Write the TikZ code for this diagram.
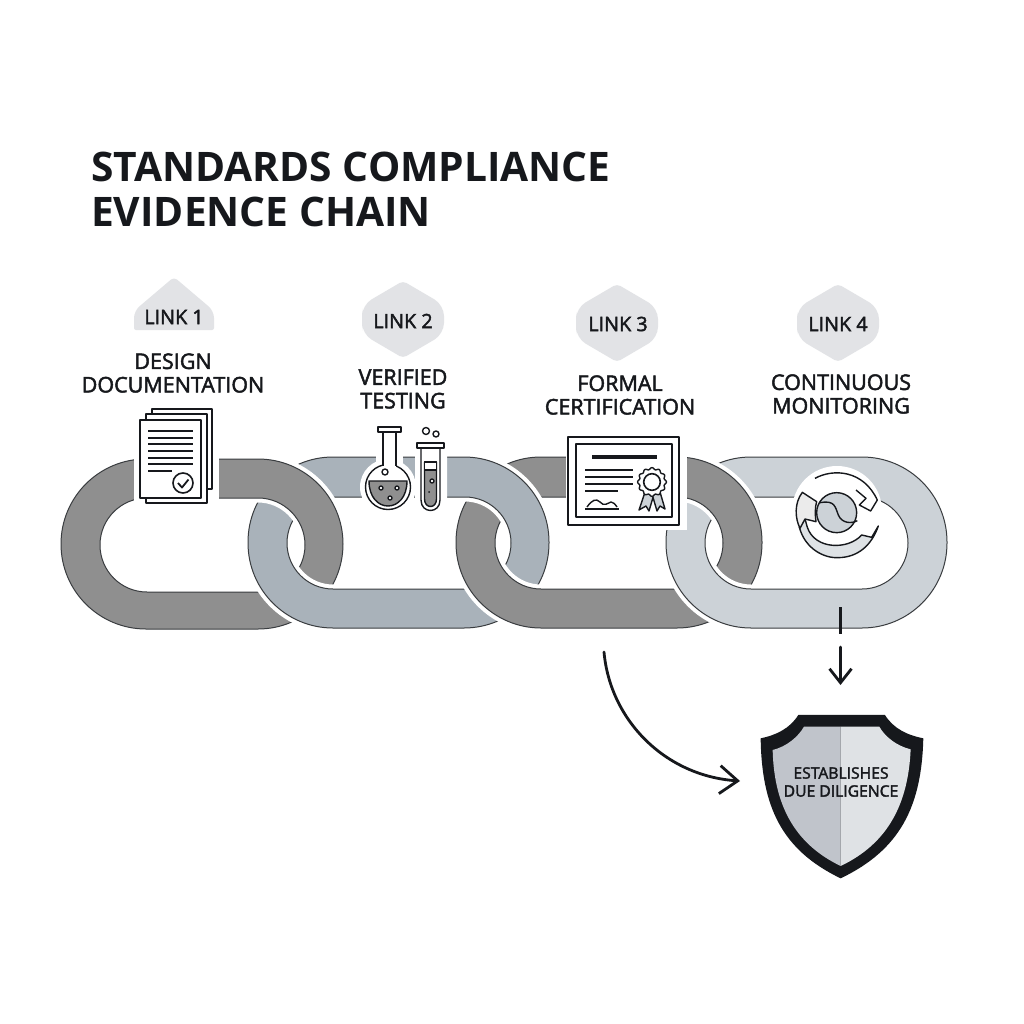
\documentclass[tikz,border=0pt]{standalone}
\usepackage{fontspec}
\setmainfont{Open Sans}
\newfontfamily\lblfont{Open Sans}[RawFeature={embolden=2.2}]
\newfontfamily\titlefont{Open Sans}[BoldFont={Open Sans Bold}]
\usetikzlibrary{arrows.meta}
\definecolor{edgec}{HTML}{3A3D40}
\definecolor{inkc}{HTML}{16181C}
\definecolor{darkl}{HTML}{8F8F8F}
\definecolor{steel}{HTML}{A9B2BA}
\definecolor{pale}{HTML}{CCD2D7}
\definecolor{badgec}{HTML}{E2E3E6}
\definecolor{shl}{HTML}{C0C4CB}
\definecolor{shr}{HTML}{DFE2E5}
\tikzset{
  icon/.style={draw=inkc,line width=1.4pt,line join=round},
  thinl/.style={draw=inkc,line width=1.4pt},
  heavy/.style={draw=inkc,line width=2.8pt,line cap=round,line join=round},
  lbl/.style={inner sep=0pt,align=center,text=inkc,font=\lblfont\fontsize{21.5}{23.5}\selectfont},
  linklbl/.style={inner sep=0pt,text=inkc,font=\lblfont\fontsize{19.8}{22}\selectfont},
}
\def\linkA{[rounded corners=85pt](61,459) rectangle (343,629)[rounded corners=47pt](100,498) rectangle (305,592)}
\def\linkB{[rounded corners=85pt](248,457) rectangle (549,628)[rounded corners=46pt](287,497) rectangle (511,589)}
\def\linkC{[rounded corners=85pt](456,457) rectangle (762,628)[rounded corners=46pt](495,497) rectangle (723,589)}
\def\linkD{[rounded corners=85pt](666,457) rectangle (947,628)[rounded corners=46pt](705,497) rectangle (908,589)}
\newcommand{\bandit}[2]{%
  \path[draw=white,line width=9pt] #2;
  \path[even odd rule,fill=#1,draw=edgec,line width=1pt] #2;}
\newcommand{\badge}[4]{%
  \path[fill=badgec,rounded corners=11pt] (#1-#4,{(#2+#3)/2}) -- (#1-#4,#2+24) [rounded corners=4pt] -- (#1,#2) [rounded corners=11pt] -- (#1+#4,#2+24) -- (#1+#4,#3-24) [rounded corners=4pt] -- (#1,#3) [rounded corners=11pt] -- (#1-#4,#3-24) -- cycle;}
\begin{document}
\begin{tikzpicture}[x=1pt,y=-1pt]
\useasboundingbox (0,0) rectangle (1024,1024);
\fill[white] (0,0) rectangle (1024,1024);
% title
\node[inner sep=0pt,align=left,anchor=west,text=inkc,font=\titlefont\bfseries\fontsize{40.7}{45}\selectfont] (title) at (91,189) {STANDARDS COMPLIANCE\\EVIDENCE CHAIN};
% chain
\bandit{darkl}{\linkA}
\bandit{steel}{\linkB}
\begin{scope}\clip (240,440) rectangle (360,544); \bandit{darkl}{\linkA} \end{scope}
\bandit{darkl}{\linkC}
\begin{scope}\clip (440,440) rectangle (560,544); \bandit{steel}{\linkB} \end{scope}
\bandit{pale}{\linkD}
\begin{scope}\clip (650,440) rectangle (770,544); \bandit{darkl}{\linkC} \end{scope}
% badges
\path[fill=badgec,rounded corners=7pt] (134,322) -- (134,311) [rounded corners=4pt] -- (174,277) [rounded corners=7pt] -- (214,311) [rounded corners=2pt] -- (214,330) -- (134,330) -- cycle;
\badge{403}{281}{358}{41}
\badge{617}{284}{362}{41}
\badge{838}{284}{362}{41}
\node[linklbl] (l1) at (174,317) {LINK 1};
\node[linklbl] (l2) at (403,321) {LINK 2};
\node[linklbl] (l3) at (618,324) {LINK 3};
\node[linklbl] (l4) at (838,324) {LINK 4};
\node[lbl] (t1) at (173,373) {DESIGN\\DOCUMENTATION};
\node[lbl] (t2) at (403,389) {VERIFIED\\TESTING};
\node[lbl] (t3) at (620,395) {FORMAL\\CERTIFICATION};
\node[lbl] (t4) at (841,394) {CONTINUOUS\\MONITORING};
% document icon
\fill[white] (134,452) rectangle (219,506);
\filldraw[fill=white,icon] (152,409) rectangle (212,489);
\filldraw[fill=white,icon] (146,414) rectangle (207,503);
\filldraw[fill=white,icon] (140,420) rectangle (201,498);
\foreach \yy in {431,438,444,451,458,464} \draw[thinl] (148,\yy) -- (193,\yy);
\draw[thinl] (148,471) -- (172,471);
\draw[icon,line width=1.6pt] (183,483) circle (10);
\draw[icon,line width=1.8pt] (178,483) -- (182,487.5) -- (188.5,479.5);
% flask icon
\fill[white] (388,487) circle (28);
\fill[white] (376,425) rectangle (403,470);
\fill[white,rounded corners=8pt] (415,440) rectangle (447,517);
\filldraw[fill=white,icon] (388,487) circle (22.5);
\fill[white] (383,460) rectangle (396,470);
\draw[icon] (383,432) -- (383,466) (396,432) -- (396,466);
\filldraw[fill=white,icon] (378,427) rectangle (401,432);
\filldraw[fill=darkl,icon] (369,481) -- (407,481) .. controls (407,497) and (398,506) .. (388,506) .. controls (378,506) and (369,497) .. (369,481) -- cycle;
\filldraw[fill=white,icon] (385,472) circle (3);
\filldraw[fill=white,icon] (381,488) circle (2);
\filldraw[fill=white,icon] (397,488) circle (2);
\filldraw[fill=white,icon] (390,498) circle (2);
\filldraw[fill=white,icon] (421,447) -- (421,500) .. controls (421,514) and (440,514) .. (440,500) -- (440,447) -- cycle;
\filldraw[fill=white,icon] (417,443) rectangle (444,448);
\filldraw[fill=darkl,icon] (424.5,462) -- (424.5,499) .. controls (424.5,509) and (436.5,509) .. (436.5,499) -- (436.5,462) -- cycle;
\filldraw[fill=white,icon] (424.5,462) rectangle (436.5,470);
\filldraw[fill=white,icon] (432,481) circle (2);
\fill[inkc] (429,492) circle (1);
\draw[icon] (426,431) circle (3.5);
\draw[icon] (436,434) circle (3);
% certificate icon
\fill[white] (566,434) rectangle (687,530);
\draw[icon,line width=1.5pt] (568,437) rectangle (679,525);
\draw[icon,line width=1.5pt] (576,444) rectangle (672,517);
\draw[inkc,line width=3.4pt] (592,457) -- (657,457);
\foreach \yy in {470,477,484} \draw[thinl] (585,\yy) -- (633,\yy);
\draw[thinl] (585,491) -- (618,491);
\draw[icon] (587,507) .. controls (592,500) and (596,498) .. (600,502) .. controls (604,507) and (608,503) .. (611,502) .. controls (613,502) and (615,504) .. (617,507);
\draw[thinl] (585,509) -- (619,509);
\filldraw[fill=pale,icon] (645,492) -- (639,510) -- (646,506) -- (649,511) -- (654,494) -- cycle;
\filldraw[fill=pale,icon] (652,494) -- (657,511) -- (660,506) -- (665,509) -- (660,492) -- cycle;
\filldraw[fill=white,icon] plot[domain=0:360,samples=121,smooth] ({652+(13.5+0.9*cos(12*\x))*cos(\x)},{482+(13.5+0.9*cos(12*\x))*sin(\x)}) -- cycle;
\draw[icon,line width=1.6pt] (652,482) circle (8.3);
% monitoring icon
\fill[white] (837,511) circle (45);
\begin{scope}[shift={(770,450)},x=0.3333pt,y=-0.3333pt]
\filldraw[fill=pale!65!white,icon] (88,232) .. controls (105,295) and (160,325) .. (205,323) .. controls (265,322) and (305,285) .. (325,228) -- (305,262) -- (275,255) .. controls (235,300) and (135,300) .. (112,232) -- (105,207) -- cycle;
\filldraw[fill=black!8,icon] (90,235) .. controls (75,205) and (72,160) .. (97,127) -- (140,155) .. controls (135,170) and (135,195) .. (138,215) -- (105,207) -- cycle;
\draw[icon] (135,85) .. controls (190,55) and (280,60) .. (322,150) -- (302,183) -- (268,165) -- (288,145) -- (258,120);
\filldraw[fill=pale,icon] (200,188) circle (60);
\draw[icon] (150,158) .. controls (195,150) and (195,170) .. (205,195) .. controls (215,220) and (245,222) .. (262,212);
\end{scope}
% shield
\begin{scope}[shift={(590,620)},x=0.3333pt,y=-0.3333pt]
\fill[inkc] (625,285) -- (885,285) .. controls (910,325) and (950,345) .. (1000,355) .. controls (995,560) and (930,690) .. (752,775) .. controls (575,690) and (515,560) .. (512,355) .. controls (560,345) and (600,325) .. (625,285) -- cycle;
\fill[shl] (752,320) -- (642,320) .. controls (625,350) and (590,380) .. (548,390) .. controls (552,550) and (610,670) .. (752,738) -- cycle;
\fill[shr] (752,320) -- (868,320) .. controls (885,350) and (920,378) .. (962,388) .. controls (955,550) and (895,670) .. (752,738) -- cycle;
\end{scope}
\node[inner sep=0pt,align=center,text=inkc,font=\lblfont\fontsize{15.7}{18}\selectfont] (shield) at (841,782) {ESTABLISHES\\DUE DILIGENCE};
% connectors
\coordinate (ca) at (604,652);
\coordinate (cb) at (740,781);
\coordinate (d1) at (840.5,607);
\coordinate (d2) at (840.5,634);
\coordinate (d3) at (840.5,647);
\coordinate (d4) at (840.5,685);
\draw[heavy,-{Straight Barb[length=18pt,width=28pt,line width=2.8pt]}] (ca) .. controls (610,720) and (665,776) .. (cb);
\draw[heavy,line cap=butt,line width=3pt] (d1) -- (d2);
\draw[heavy,line width=2.8pt,-{Straight Barb[length=14pt,width=22pt,line width=2.8pt]}] (d3) -- (d4);
\end{tikzpicture}
\end{document}
